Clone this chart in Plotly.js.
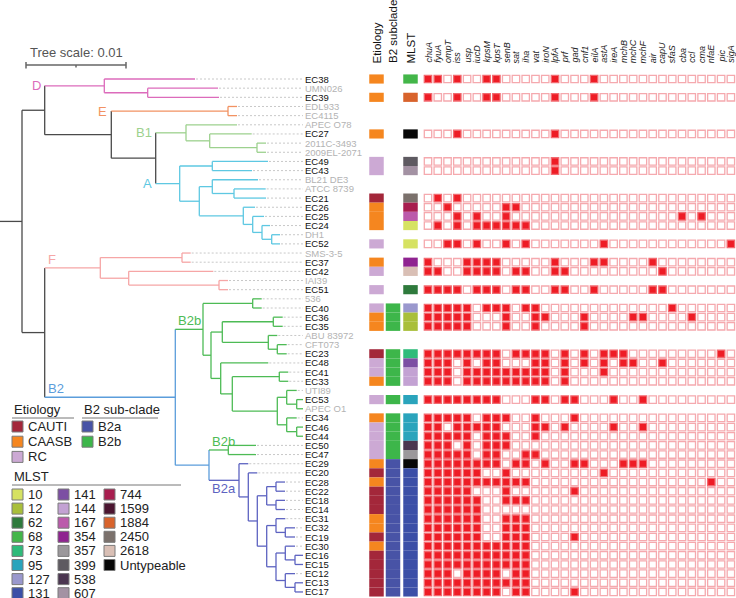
<!DOCTYPE html>
<html><head><meta charset="utf-8">
<script src="https://cdn.plot.ly/plotly-3.0.1.min.js"></script>
<style>html,body{margin:0;padding:0;background:#fff}#chart{width:736px;height:598px}</style>
</head><body><div id="chart"></div>
<script>
// ---------------- DATA ----------------
// Phylogeny (branch lengths in units of 1e-4 substitutions/site)
const treeNewick = "(" +
 "((EC38:90.7,(UMN026:70.3,EC39:71.3):43.4)D:59.6,((EDL933:9,EC4115:9)E:116.7,((APEC_O78:51,(EC27:42,(2011C-3493:9,2009EL-2071:9):47.3):23.7)B1:30.3,((EC49:55.7,EC43:39.7):32.6,((BL21_DE3:45.7,(ATCC_8739:31.7,EC21:32):21.7):13,(EC26:11.7,(EC25:11.3,(EC24:8,(DH1:8.3,EC52:8.3):9.7):9.3):9.4):44):19.6)A:24):44.4):66.6):22.7" +
 "," +
 "(((SMS-3-5:8.7,EC37:8.7):81.7,(EC42:84.6,(IAI39:9,EC51:9):90.3):28.4)F:55.6,(" +
 "((536:9,EC40:9):49.7,(((EC36:9.4,EC35:9.4):51,(ABU_83972:9,(CFT073:9.4,EC23:9.4):9):46):11.3,(EC48:47.6,((EC41:9,EC33:9):47,((UTI89:10,(EC53:6.3,APEC_O1:6.3):10):9.4,(EC34:10,(EC46:6.3,EC44:6.3):10):9.4):45):11.6):9.7):8)B2bU:27.7" +
 "," +
 "((EC50:27.7,EC47:27.7)B2bL:19.3,(EC29:9.3,(EC20:9,(((EC28:9,EC22:9):9.3,(EC18:9,EC14:9):9.3):9.4,((EC31:9.3,(EC32:9.7,EC19:9.7):9.3):9.3,((EC30:9.7,(EC16:8,EC15:8):9.7):9.3,(EC12:9.7,(EC13:8,EC17:8):9.7):9.3):9.3):9.4):9):9.3)B2a:30):33.7" +
 ")B2:130.6):22.7" +
 ")Root:22;";
const treeUnit = 1e-4;
const scaleBarValue = 0.01;

const genes = ['chuA','fyuA','ompT','iss','usp','iucD','kpsM','kpsT','senB','sat','iha','vat','iroN','lpfA','prf','gad','cnf1','eilA','astA','ireA','mchB','mchC','mchF','air','capU','sfaS','cba','ccl','cma','nfaE','pic','sigA'];

const ecStrains = ['EC38','EC39','EC27','EC49','EC43','EC21','EC26','EC25','EC24','EC52','EC37','EC42','EC51','EC40','EC36','EC35','EC23','EC48','EC41','EC33','EC53','EC34','EC46','EC44','EC50','EC47','EC29','EC20','EC28','EC22','EC18','EC14','EC31','EC32','EC19','EC30','EC16','EC15','EC12','EC13','EC17'];

// presence (1) / absence (0) of each gene, same order as genes
const virulence = [
 '11010011 00000100 01000000 00000000', // EC38
 '10010011 00000100 01000000 00000000', // EC39
 '00010000 00000100 00000000 00000000', // EC27
 '00000000 00000100 00000000 00000000', // EC49
 '00000000 00000100 00000000 00000000', // EC43
 '01010000 00000000 00000000 00000000', // EC21
 '00100000 11000000 00000000 00000000', // EC26
 '00010100 10000000 00000000 00101000', // EC25
 '01010111 11100000 00000000 00000000', // EC24
 '00110100 10100000 00100000 00000001', // EC52
 '10001111 00000100 01100001 00000000', // EC37
 '11001111 01100110 00000000 10000000', // EC42
 '11110111 01100110 01000001 10000000', // EC51
 '11111011 10110000 00000000 01000000', // EC40
 '11111000 10011000 10000110 00010000', // EC36
 '11111000 10010000 10000000 00000000', // EC35
 '11111111 01111010 10111000 00000010', // EC23
 '11101011 00011010 10101100 10000000', // EC48
 '11101111 11111010 00100000 00000000', // EC41
 '11101111 11111010 00000000 00000000', // EC33
 '11111111 00011011 00010010 00000000', // EC53
 '11111011 10010001 00000000 00000000', // EC34
 '11011111 00011010 00010010 00000000', // EC46
 '11111011 10010000 00000000 00000000', // EC44
 '11101011 10000000 00000000 00000000', // EC50
 '11111011 00110000 00000000 00000000', // EC47
 '11111111 01101001 10001110 00000000', // EC29
 '11111100 10000000 00100000 00000000', // EC20
 '11111111 11100000 00000000 00000100', // EC28
 '11111000 10000001 00000000 00000000', // EC22
 '11111100 11100000 00000000 00000000', // EC18
 '11111100 00000000 00000000 00000000', // EC14
 '11111100 11100000 00000000 00000000', // EC31
 '11111100 11100000 00000000 00000000', // EC32
 '11111100 11100001 00000000 00000000', // EC19
 '11111111 11100000 00000000 00000000', // EC30
 '11111111 11100000 00000000 00000000', // EC16
 '11111111 11100000 00000000 00000000', // EC15
 '11101111 01100000 00000000 00000000', // EC12
 '11111111 11100000 00000000 00000000', // EC13
 '11111111 01100001 00000000 00000000'  // EC17
];

const etiology = ['CAASB','CAASB','CAASB','RC','RC','CAUTI','CAASB','CAASB','CAASB','RC','CAASB','RC','RC','RC','CAASB','CAASB','CAUTI','RC','RC','CAASB','RC','CAASB','RC','RC','RC','RC','CAASB','CAUTI','CAASB','CAUTI','CAUTI','CAUTI','CAASB','CAASB','CAUTI','CAASB','CAUTI','CAUTI','CAUTI','CAUTI','CAUTI'];
const subclade = ['','','','','','','','','','','','','','B2b','B2b','B2b','B2b','B2b','B2b','B2b','B2b','B2b','B2b','B2b','B2b','B2b','B2a','B2a','B2a','B2a','B2a','B2a','B2a','B2a','B2a','B2a','B2a','B2a','B2a','B2a','B2a'];
const mlst = ['68','1884','Untypeable','399','607','2450','744','167','10','10','354','2618','62','127','12','12','73','141','144','144','95','95','95','95','538','357','Untypeable','131','131','131','131','131','131','131','131','131','131','131','131','131','131'];

const etiologyCats = ['CAUTI','CAASB','RC'];
const subcladeCats = ['B2a','B2b'];
const mlstCats = ['10','12','62','68','73','95','127','131','141','144','167','354','357','399','538','607','744','1599','1884','2450','2618','Untypeable'];

// ---------------- STYLE ----------------
const etiologyColors = {CAUTI:'#a3273a', CAASB:'#f5861f', RC:'#cca9d4'};
const subcladeColors = {B2a:'#4853a6', B2b:'#3db64a'};
const mlstColors = {'10':'#d6e262','12':'#a9bf3a','62':'#2e7a3c','68':'#43b649','73':'#2ebb7a','95':'#2aa4bc','127':'#9a98cd','131':'#3b4fa7','141':'#7c4fa3','144':'#c3a2d3','167':'#bb5aab','354':'#8f2390','357':'#9b989b','399':'#5e5a61','538':'#4b3650','607':'#a392a3','744':'#a81e4f','1599':'#4b1530','1884':'#d8632c','2450':'#7b716c','2618':'#d9bfb5','Untypeable':'#080808'};
const cladeColors = {D:'#dc6bbb', E:'#f29262', B1:'#9dd18e', A:'#5ec8e2', F:'#f6a6a6', B2:'#5b9ddb', B2bU:'#4dbb55', B2bL:'#4dbb55', B2a:'#5d63c1'};
const baseBranchColor = '#4a4a4a';
const cladeLabels = [
 {node:'D',text:'D',pos:'left'},{node:'E',text:'E',pos:'left'},{node:'B1',text:'B1',pos:'left'},{node:'A',text:'A',pos:'left'},
 {node:'F',text:'F',pos:'above'},{node:'B2',text:'B2',pos:'above'},{node:'B2bU',text:'B2b',pos:'above'},
 {node:'B2bL',text:'B2b',pos:'above'},{node:'B2a',text:'B2a',pos:'below'}];

const FONT = 'Liberation Sans, Arial, sans-serif';
const W = 736, H = 598;
const ROW0_PX = 79, ROW_PX = 9.16;      // first leaf row / row pitch
const COL0_PX = 428, COL_PX = 9.77;     // first gene column / column pitch
const LEADER_END = 303, LABEL_X = 304;  // tree units (1 unit = 1 px)
const annotCols = [{title:'Etiology', px:376.5}, {title:'B2 subclade', px:393}, {title:'MLST', px:410.5}];
const annotW_PX = 14.5;

const pxToRow = py => (py - ROW0_PX) / ROW_PX;
const pxToCol = px => (px - COL0_PX) / COL_PX;
const PX = px => px / W, PY = py => 1 - py / H;

// ---------------- TREE ----------------
function parseNewick(s) {
  let i = 0;
  function node() {
    const n = {children: [], name: '', len: 0};
    if (s[i] === '(') {
      i++;
      n.children.push(node());
      while (s[i] === ',') { i++; n.children.push(node()); }
      i++;
    }
    let name = '';
    while (i < s.length && !',():;'.includes(s[i])) name += s[i++];
    n.name = name.replace(/_/g, ' ');
    if (s[i] === ':') {
      i++; let num = '';
      while (i < s.length && !',();'.includes(s[i])) num += s[i++];
      n.len = parseFloat(num);
    }
    return n;
  }
  return node();
}
const root = parseNewick(treeNewick);
const leaves = []; const named = {};
function lay(n, pd, color) {
  n.pd = pd; n.depth = pd + n.len; n.color = cladeColors[n.name] || color;
  if (n.name) named[n.name] = n;
  if (!n.children.length) { n.y = leaves.length; leaves.push(n); }
  else { n.children.forEach(c => lay(c, n.depth, n.color)); n.y = (n.children[0].y + n.children[n.children.length-1].y) / 2; }
}
lay(root, 0, baseBranchColor);

const segs = {};
function seg(c, x0, y0, x1, y1) { (segs[c] = segs[c] || {x:[], y:[]}); segs[c].x.push(x0, x1, null); segs[c].y.push(y0, y1, null); }
(function walk(n) {
  seg(n.color, n.pd, n.y, n.depth, n.y);
  if (n.children.length) { seg(n.color, n.depth, n.children[0].y, n.depth, n.children[n.children.length-1].y); n.children.forEach(walk); }
})(root);

const traces = [];
// leader dotted lines
const lx = [], ly = [];
leaves.forEach(l => { if (l.depth < LEADER_END - 1) { lx.push(l.depth + 1, LEADER_END, null); ly.push(l.y, l.y, null); } });
traces.push({type:'scatter', mode:'lines', x:lx, y:ly, xaxis:'x', yaxis:'y', line:{color:'#c8c8c8', width:1, dash:'2px,2px'}, hoverinfo:'skip'});
Object.keys(segs).forEach(c => traces.push({type:'scatter', mode:'lines', x:segs[c].x, y:segs[c].y, xaxis:'x', yaxis:'y', line:{color:c, width:1.3}, hoverinfo:'skip'}));

// scale bar
const SB_X0 = 26, SB_Y = pxToRow(65), SB_LEN = scaleBarValue / treeUnit;
traces.push({type:'scatter', mode:'lines', xaxis:'x', yaxis:'y', hoverinfo:'skip', line:{color:'#666', width:1.5},
  x:[SB_X0, SB_X0+SB_LEN, null, SB_X0, SB_X0, null, SB_X0+SB_LEN, SB_X0+SB_LEN, null, SB_X0+SB_LEN/2, SB_X0+SB_LEN/2],
  y:[SB_Y, SB_Y, null, pxToRow(62), pxToRow(68.5), null, pxToRow(62), pxToRow(68.5), null, SB_Y, pxToRow(67.5)]});

// ---------------- HEATMAP ----------------
const rowOf = {}; leaves.forEach(l => rowOf[l.name] = l.y);
const pres = {x:[], y:[]}, abs = {x:[], y:[]};
ecStrains.forEach((s, k) => {
  const bits = virulence[k].replace(/ /g, '');
  genes.forEach((g, j) => { const t = bits[j] === '1' ? pres : abs; t.x.push(j); t.y.push(rowOf[s]); });
});
traces.push({type:'scatter', mode:'markers', x:abs.x, y:abs.y, xaxis:'x2', yaxis:'y', hoverinfo:'skip',
  marker:{symbol:'square', size:7.4, color:'#ffffff', line:{color:'#f5a9ae', width:1.3}}});
traces.push({type:'scatter', mode:'markers', x:pres.x, y:pres.y, xaxis:'x2', yaxis:'y', hoverinfo:'skip',
  marker:{symbol:'square', size:7.4, color:'#ee1c25', line:{color:'#f26a70', width:1.3}}});

const shapes = [];
const annWu = annotW_PX / COL_PX;
[etiology, subclade, mlst].forEach((arr, ci) => {
  const cmap = [etiologyColors, subcladeColors, mlstColors][ci];
  const cx = pxToCol(annotCols[ci].px);
  ecStrains.forEach((s, k) => {
    const v = arr[k]; if (!v) return;
    shapes.push({type:'rect', xref:'x2', yref:'y', x0:cx-annWu/2, x1:cx+annWu/2, y0:rowOf[s]-0.5, y1:rowOf[s]+0.5, fillcolor:cmap[v], line:{width:0}, layer:'below'});
  });
});

// ---------------- TEXT ----------------
const ann = [];
leaves.forEach(l => ann.push({xref:'x', yref:'y', x:LABEL_X, y:l.y, text:l.name, showarrow:false, xanchor:'left', yanchor:'middle',
  borderpad:0, font:{family:FONT, size:9.5, color: ecStrains.includes(l.name) ? '#111111' : '#b3b3b3'}}));
genes.forEach((g, j) => ann.push({xref:'x2', yref:'paper', x:j, y:PY(64), text:'<i>'+g+'</i>', textangle:-90, showarrow:false,
  xanchor:'center', yanchor:'bottom', borderpad:0, font:{family:FONT, size:9, color:'#222'}}));
annotCols.forEach(c => ann.push({xref:'x2', yref:'paper', x:pxToCol(c.px), y:PY(64.5), text:c.title, textangle:-90, showarrow:false,
  xanchor:'center', yanchor:'bottom', borderpad:0, font:{family:FONT, size:11.5, color:'#111'}}));
cladeLabels.forEach(c => {
  const n = named[c.node]; const col = cladeColors[c.node];
  const a = {xref:'x', yref:'y', y:n.y, text:c.text, showarrow:false, font:{family:FONT, size:13, color:col}};
  if (c.pos === 'left') Object.assign(a, {x:n.pd-2, xanchor:'right', yanchor:'middle'});
  else if (c.pos === 'above') Object.assign(a, {x:n.pd+1, xanchor:'left', yanchor:'bottom', yshift:-1});
  else Object.assign(a, {x:n.pd+1, xanchor:'left', yanchor:'top', yshift:1});
  ann.push(a);
});
ann.push({xref:'x', yref:'y', x:SB_X0+SB_LEN/2, y:pxToRow(52), text:'Tree scale: ' + scaleBarValue, showarrow:false, xanchor:'center', yanchor:'middle',
  font:{family:FONT, size:13, color:'#555'}});

// ---------------- LEGEND ----------------
function legTitle(text, x, y, ux1) {
  ann.push({xref:'paper', yref:'paper', x:PX(x), y:PY(y), text, showarrow:false, xanchor:'left', yanchor:'middle', font:{family:FONT, size:13, color:'#222'}});
  shapes.push({type:'line', xref:'paper', yref:'paper', x0:PX(x), x1:PX(ux1), y0:PY(y+9), y1:PY(y+9), line:{color:'#777', width:1}});
}
function legItem(text, color, x, y) {
  shapes.push({type:'rect', xref:'paper', yref:'paper', x0:PX(x), x1:PX(x+11), y0:PY(y-5.5), y1:PY(y+5.5), fillcolor:color, line:{color:'#7a7a7a', width:1}});
  ann.push({xref:'paper', yref:'paper', x:PX(x+15), y:PY(y), text, showarrow:false, xanchor:'left', yanchor:'middle', borderpad:0, font:{family:FONT, size:13, color:'#222'}});
}
legTitle('Etiology', 12, 409, 74);
legTitle('B2 sub-clade', 82, 409, 158);
etiologyCats.forEach((c, k) => legItem(c, etiologyColors[c], 12, 426.5 + k*15.2));
subcladeCats.forEach((c, k) => legItem(c, subcladeColors[c], 82, 426.5 + k*15.2));
legTitle('MLST', 12, 476, 181);
mlstCats.forEach((c, k) => legItem(c, mlstColors[c], 12 + Math.floor(k/8)*46, 494.5 + (k%8)*14.1));

const layout = {
  width:W, height:H, margin:{l:0, r:0, t:0, b:0}, paper_bgcolor:'#fff', plot_bgcolor:'#fff',
  showlegend:false, hovermode:false,
  xaxis:{range:[0, W], visible:false, fixedrange:true},
  xaxis2:{range:[pxToCol(0), pxToCol(W)], overlaying:'x', anchor:'y', visible:false, fixedrange:true},
  yaxis:{range:[pxToRow(H), pxToRow(0)], visible:false, fixedrange:true},
  shapes, annotations:ann
};
Plotly.newPlot('chart', traces, layout, {displayModeBar:false, staticPlot:true});
</script></body></html>
